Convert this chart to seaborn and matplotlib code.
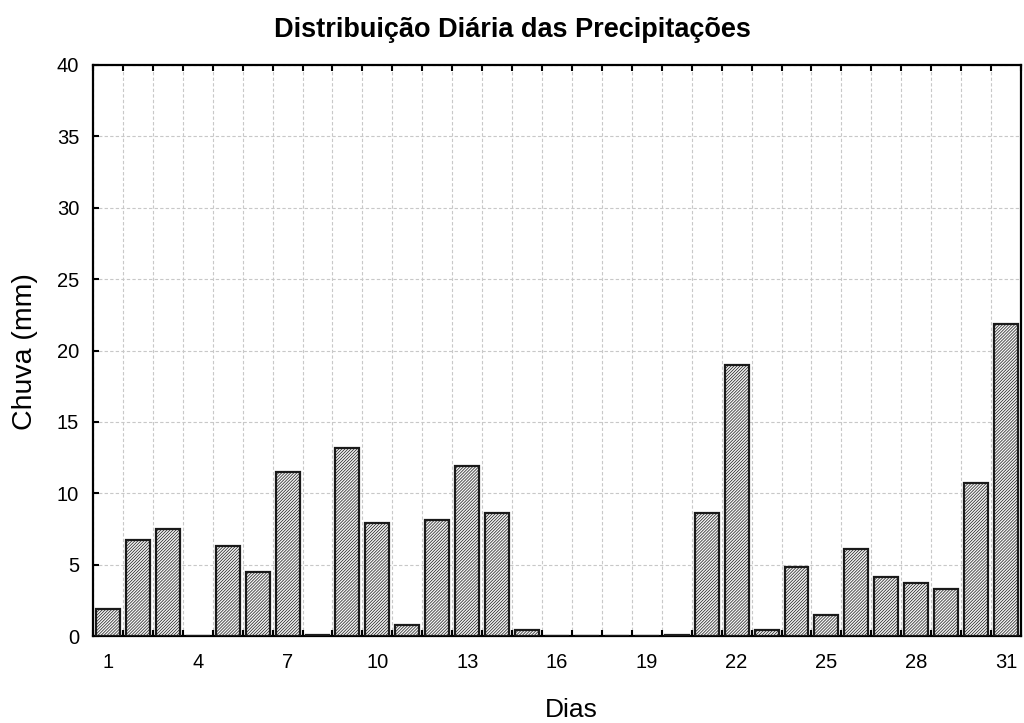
import matplotlib
matplotlib.use("Agg")
import matplotlib.pyplot as plt
import seaborn as sns
import pandas as pd
import numpy as np
from matplotlib.ticker import FixedLocator

days = list(range(1, 32))
rain = [1.9, 6.7, 7.5, 0.0, 6.3, 4.5, 11.5, 0.1, 13.2, 7.9,
        0.8, 8.1, 11.9, 8.6, 0.4, 0.0, 0.0, 0.0, 0.0, 0.1,
        8.6, 19.0, 0.45, 4.85, 1.5, 6.1, 4.1, 3.7, 3.3, 10.7, 21.85]
xtick_labels = [1, 4, 7, 10, 13, 16, 19, 22, 25, 28, 31]
yticks = [0, 5, 10, 15, 20, 25, 30, 35, 40]

title = "Distribuição Diária das Precipitações"
xlabel = "Dias"
ylabel = "Chuva (mm)"

sns.set_theme(style="white")
plt.rcParams['font.family'] = ['Liberation Sans', 'DejaVu Sans']
plt.rcParams['hatch.linewidth'] = 0.5
plt.rcParams['text.color'] = 'black'

HATCH = "/" * 11

df = pd.DataFrame({"Dia": days, "Chuva": rain})

fig = plt.figure(figsize=(10.24, 7.23), dpi=100)
ax = fig.add_axes([93/1024, 1 - 636/723, (1021-93)/1024, (636-65)/723])

sns.barplot(data=df, x="Dia", y="Chuva", native_scale=True, width=0.8,
            color="#f4f4f4", edgecolor="#1a1a1a", linewidth=1.6,
            hatch=HATCH, ax=ax, zorder=3)
for p in ax.patches:
    p.set_hatch(HATCH)
    p.set_facecolor("#f4f4f4")
    p.set_edgecolor("#1a1a1a")

ax.set_xlim(0.5, 31.5)
ax.set_ylim(0, 40)
ax.set_xticks(xtick_labels)
ax.set_xticklabels([str(v) for v in xtick_labels])
ax.xaxis.set_minor_locator(FixedLocator(np.arange(0.5, 32, 1.0)))
ax.set_yticks(yticks)
ax.set_yticklabels([str(v) for v in yticks])

ax.tick_params(axis='x', which='major', length=0, labelsize=14.5, pad=12,
               colors='black', labelcolor='black')
ax.tick_params(axis='x', which='minor', direction='in', length=4, width=1.5,
               top=True, bottom=True, color='black')
ax.tick_params(axis='y', which='major', direction='in', length=4, width=1.5,
               left=True, right=False, labelsize=14.5, pad=10,
               colors='black', labelcolor='black')

ax.grid(False)
ax.xaxis.grid(True, which='minor', color='#c8c8c8', linestyle=(0, (3, 2)), linewidth=0.8)
ax.yaxis.grid(True, which='major', color='#c8c8c8', linestyle=(0, (3, 2)), linewidth=0.8)
ax.set_axisbelow(True)

for s in ax.spines.values():
    s.set_visible(True)
    s.set_color('black')
    s.set_linewidth(1.6)

ax.set_xlabel("")
ax.set_ylabel("")

fig.text(0.5, 1 - 30/723, title, ha='center', va='center', fontsize=19.5,
         fontweight='bold', color='black')
fig.text(571/1024, 1 - 710/723, xlabel, ha='center', va='center', fontsize=19, color='black')
fig.text(25/1024, 1 - 352/723, ylabel, ha='center', va='center', fontsize=20.5,
         rotation=90, color='black')

fig.savefig("out.png", dpi=100)
